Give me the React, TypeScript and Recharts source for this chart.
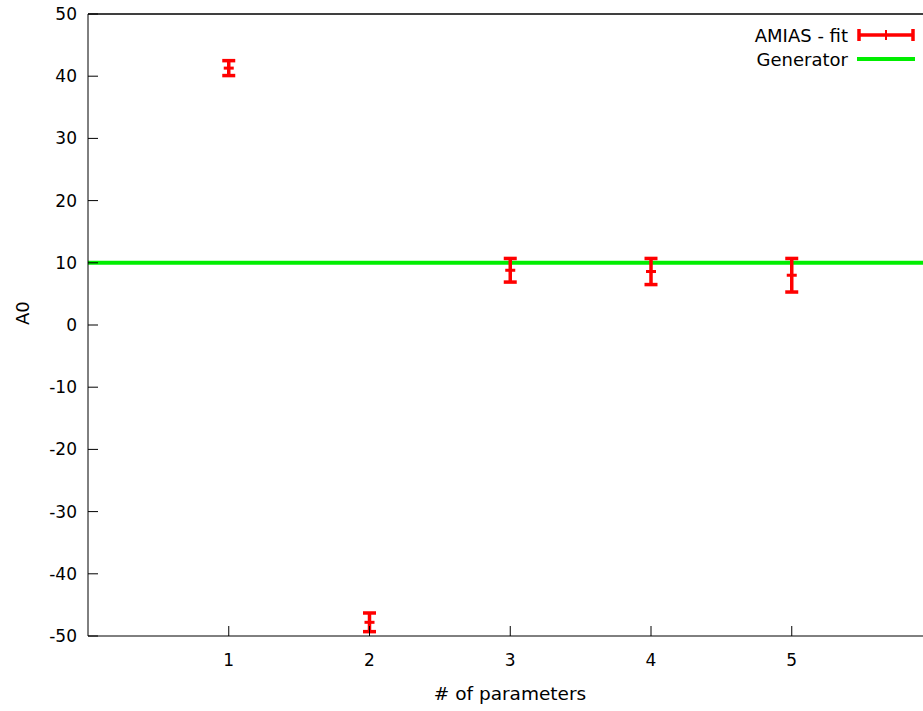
import { ScatterChart, Scatter, XAxis, YAxis, ErrorBar, ReferenceLine, Legend } from "recharts";

const params = [1, 2, 3, 4, 5];
const a0Fit = [41.3, -47.8, 8.8, 8.6, 8.0];
const a0Err = [1.2, 1.5, 1.9, 2.1, 2.7];
const generatorValue = 10;
const xTicks = [1, 2, 3, 4, 5];
const yTicks = [-50, -40, -30, -20, -10, 0, 10, 20, 30, 40, 50];

const data = params.map((p, i) => ({ x: p, y: a0Fit[i], err: a0Err[i] }));

const FONT = "'DejaVu Sans', sans-serif";
const FIT_RED = "#ff0000";
const GEN_GREEN = "#00ee00";

const BottomTick = ({ x, y, payload }: any) => (
  <g>
    <line x1={x} x2={x} y1={y} y2={y - 10} stroke="#000" strokeWidth={1} />
    <text x={x} y={y + 24} textAnchor="middle" dominantBaseline="central" fontSize={17} fontFamily={FONT} fill="#000">
      {payload.value}
    </text>
  </g>
);

const TopTick = ({ x, y }: any) => <line x1={x} x2={x} y1={y} y2={y + 10} stroke="#000" strokeWidth={1} />;

const LeftTick = ({ x, y, payload }: any) => (
  <g>
    <line x1={x} x2={x + 10} y1={y} y2={y} stroke="#000" strokeWidth={1} />
    <text x={x - 11} y={y} textAnchor="end" dominantBaseline="central" fontSize={17} fontFamily={FONT} fill="#000">
      {payload.value}
    </text>
  </g>
);

const RightTick = ({ x, y }: any) => <line x1={x} x2={x - 10} y1={y} y2={y} stroke="#000" strokeWidth={1} />;

const PointMark = ({ cx, cy }: any) => <rect x={cx - 5} y={cy - 1.5} width={10} height={3} fill={FIT_RED} />;

const renderLegend = () => (
  <div style={{ fontFamily: FONT, fontSize: 18, color: "#000" }}>
    <div style={{ display: "flex", justifyContent: "flex-end", alignItems: "center", height: 24 }}>
      <span>AMIAS - fit</span>
      <svg width={58} height={24} style={{ marginLeft: 9 }}>
        <line x1={1} x2={57} y1={12} y2={12} stroke={FIT_RED} strokeWidth={3.5} />
        <line x1={2} x2={2} y1={6} y2={18} stroke={FIT_RED} strokeWidth={3.5} />
        <line x1={56} x2={56} y1={6} y2={18} stroke={FIT_RED} strokeWidth={3.5} />
        <line x1={29} x2={29} y1={7} y2={17} stroke={FIT_RED} strokeWidth={2} />
      </svg>
    </div>
    <div style={{ display: "flex", justifyContent: "flex-end", alignItems: "center", height: 24 }}>
      <span>Generator</span>
      <svg width={58} height={24} style={{ marginLeft: 9 }}>
        <line x1={0} x2={58} y1={12} y2={12} stroke={GEN_GREEN} strokeWidth={4} />
      </svg>
    </div>
  </div>
);

export default function App() {
  return (
    <div style={{ position: "fixed", left: 0, top: 0, width: 923, height: 711, overflow: "hidden", background: "#fff" }}>
      <ScatterChart width={940} height={711} margin={{ top: 13, right: 0, bottom: 0, left: 0 }}>
        <XAxis
          type="number"
          dataKey="x"
          domain={[0, 6]}
          ticks={xTicks}
          tickSize={0}
          tickMargin={0}
          tick={<BottomTick />}
          height={75}
          stroke="#000"
          allowDataOverflow
        />
        <XAxis
          xAxisId="top"
          orientation="top"
          type="number"
          domain={[0, 6]}
          ticks={xTicks}
          tickSize={0}
          tickMargin={0}
          tick={<TopTick />}
          height={1}
          stroke="#000"
        />
        <YAxis
          type="number"
          dataKey="y"
          domain={[-50, 50]}
          ticks={yTicks}
          tickSize={0}
          tickMargin={0}
          tick={<LeftTick />}
          width={88}
          stroke="#000"
          allowDataOverflow
          label={{ value: "A0", angle: -90, position: "insideLeft", dx: 18, fontSize: 18, fontFamily: FONT, fill: "#000" }}
        />
        <YAxis
          yAxisId="right"
          orientation="right"
          type="number"
          domain={[-50, 50]}
          ticks={yTicks}
          tickSize={0}
          tickMargin={0}
          tick={<RightTick />}
          width={7.5}
          stroke="#000"
        />
        <ReferenceLine y={50} stroke="#000" strokeWidth={1} />
        <ReferenceLine y={generatorValue} stroke={GEN_GREEN} strokeWidth={4} />
        <Scatter data={data} fill={FIT_RED} shape={<PointMark />} isAnimationActive={false}>
          <ErrorBar dataKey="err" direction="y" width={6.5} stroke={FIT_RED} strokeWidth={3.5} />
        </Scatter>
        <Legend
          layout="vertical"
          align="center"
          verticalAlign="middle"
          content={renderLegend}
          wrapperStyle={{ position: "absolute", top: 23, left: 700, width: 215, height: 50 }}
        />
      </ScatterChart>
      <div
        style={{
          position: "absolute",
          left: 0,
          width: 1020,
          top: 683,
          textAlign: "center",
          fontFamily: FONT,
          fontSize: 18.5,
          color: "#000",
        }}
      >
        # of parameters
      </div>
    </div>
  );
}
